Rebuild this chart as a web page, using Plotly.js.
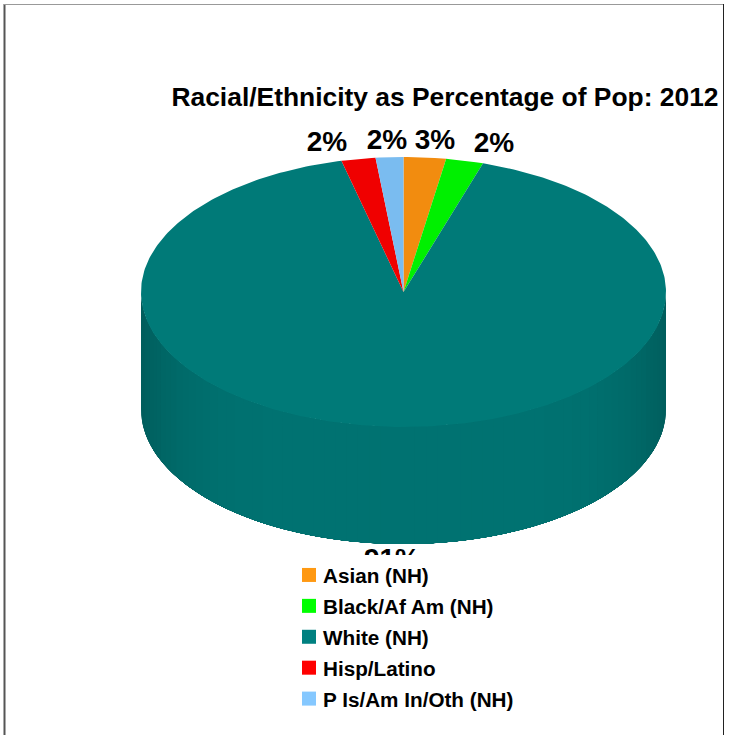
<!DOCTYPE html>
<html>
<head>
<meta charset="utf-8">
<script src="https://cdn.plot.ly/plotly-3.0.1.min.js"></script>
<style>html,body{margin:0;padding:0;background:#fff}#chart{width:731px;height:735px}</style>
</head>
<body>
<div id="chart"></div>
<script>
// Population shares, 2012 (percent), in clockwise order from twelve o'clock
const groups = ['Asian (NH)', 'Black/Af Am (NH)', 'White (NH)', 'Hisp/Latino', 'P Is/Am In/Oth (NH)'];
const shares = [2.6, 2.3, 91.3, 2.1, 1.7];
const faceColors = ['#F28C0F', '#00F000', '#007A78', '#F00000', '#7ABCF0'];
const legendColors = ['#FF9912', '#00FF00', '#008080', '#FF0000', '#85C8FF'];

// Hand-placed share labels, in pixels on the page
const labelX = [435, 494, 392, 327, 387];
const labelY = [142, 145, 561, 144, 142];

const chartTitle = 'Racial/Ethnicity as Percentage of Pop: 2012';
const FONT = '"Liberation Sans", Arial, sans-serif';

// Tilted disc geometry
const cx = 403.5, cy = 292, rx = 262.5, ry = 135, depth = 117;

const rim = (a, dy) => [cx + rx * Math.sin(a), cy + dy - ry * Math.cos(a)];
const traces = [];

// Side wall: nested bands painted outermost first, each lighter than the last,
// so the shading steps towards the middle without seams
const bandCount = 36;
for (let i = 0; i < bandCount; i++) {
  const inset = (Math.PI / 2) * i / bandCount;
  const a0 = Math.PI / 2 + inset;
  const a1 = 3 * Math.PI / 2 - inset;
  const edge = Math.pow(Math.cos(inset), 6);
  const g = Math.round(0x72 - (0x72 - 0x5E) * edge);
  const xs = [], ys = [];
  const steps = 80;
  for (let k = 0; k <= steps; k++) {
    const p = rim(a0 + (a1 - a0) * k / steps, 0);
    xs.push(p[0]); ys.push(p[1]);
  }
  for (let k = steps; k >= 0; k--) {
    const p = rim(a0 + (a1 - a0) * k / steps, depth);
    xs.push(p[0]); ys.push(p[1]);
  }
  traces.push({
    type: 'scatter', mode: 'lines', x: xs, y: ys, fill: 'toself',
    fillcolor: `rgb(0,${g},${g - 1})`, line: { width: 0 },
    showlegend: false, hoverinfo: 'skip'
  });
}

// Top face: one wedge per group
let running = 0;
shares.forEach((share, i) => {
  const start = running / 100 * 2 * Math.PI;
  running += share;
  const end = running / 100 * 2 * Math.PI;
  const n = Math.max(4, Math.ceil(share * 4));
  const xs = [cx], ys = [cy];
  for (let k = 0; k <= n; k++) {
    const p = rim(start + (end - start) * k / n, 0);
    xs.push(p[0]); ys.push(p[1]);
  }
  traces.push({
    type: 'scatter', mode: 'lines', x: xs, y: ys, fill: 'toself', fillcolor: faceColors[i],
    line: { width: 0 }, showlegend: false, hoverinfo: 'skip'
  });
});

// Share labels, rounded from the same values as the wedges
traces.push({
  type: 'scatter', mode: 'text', x: labelX, y: labelY,
  text: shares.map(v => Math.round(v) + '%'), textposition: 'middle center',
  textfont: { family: FONT, size: 28, weight: 'bold', color: '#000' },
  showlegend: false, hoverinfo: 'skip'
});

// Legend entries with square keys
groups.forEach((name, i) => {
  traces.push({
    type: 'scatter', mode: 'markers', x: [null], y: [null], name: name, legendgroup: name,
    marker: { symbol: 'square', size: 14, color: legendColors[i] }, hoverinfo: 'skip'
  });
});

const layout = {
  width: 731, height: 735,
  margin: { l: 0, r: 0, t: 0, b: 0 },
  paper_bgcolor: '#fff', plot_bgcolor: '#fff',
  showlegend: true,
  title: {
    text: '<b>' + chartTitle + '</b>', x: 445 / 731, xanchor: 'center', xref: 'paper',
    y: 1 - 97 / 735, yanchor: 'middle', yref: 'paper',
    font: { family: FONT, size: 26.4, color: '#000' }
  },
  legend: {
    x: 283 / 731, xanchor: 'left', y: 1 - 555 / 735, yanchor: 'top',
    bgcolor: '#fff', borderwidth: 0, tracegroupgap: 1, itemsizing: 'trace',
    font: { family: FONT, size: 20.7, weight: 'bold', color: '#000' }
  },
  xaxis: { range: [0, 731], visible: false, fixedrange: true },
  yaxis: { range: [735, 0], visible: false, fixedrange: true },
  shapes: [
    { type: 'line', xref: 'paper', yref: 'paper', x0: 4.5 / 731, x1: 4.5 / 731, y0: 0, y1: 1 - 4 / 735, line: { color: '#555', width: 2 } },
    { type: 'line', xref: 'paper', yref: 'paper', x0: 4 / 731, x1: 724 / 731, y0: 1 - 4.5 / 735, y1: 1 - 4.5 / 735, line: { color: '#999', width: 1 } },
    { type: 'line', xref: 'paper', yref: 'paper', x0: 723.5 / 731, x1: 723.5 / 731, y0: 0, y1: 1 - 4 / 735, line: { color: '#222', width: 1 } }
  ],
  hovermode: false
};

Plotly.newPlot('chart', traces, layout, { displayModeBar: false, staticPlot: true }).then(gd => {
  // Pull the legend keys in closer to their labels
  gd.querySelectorAll('.legend .legendpoints').forEach(node => {
    node.setAttribute('transform', 'translate(6,0)');
  });
});
</script>
</body>
</html>
